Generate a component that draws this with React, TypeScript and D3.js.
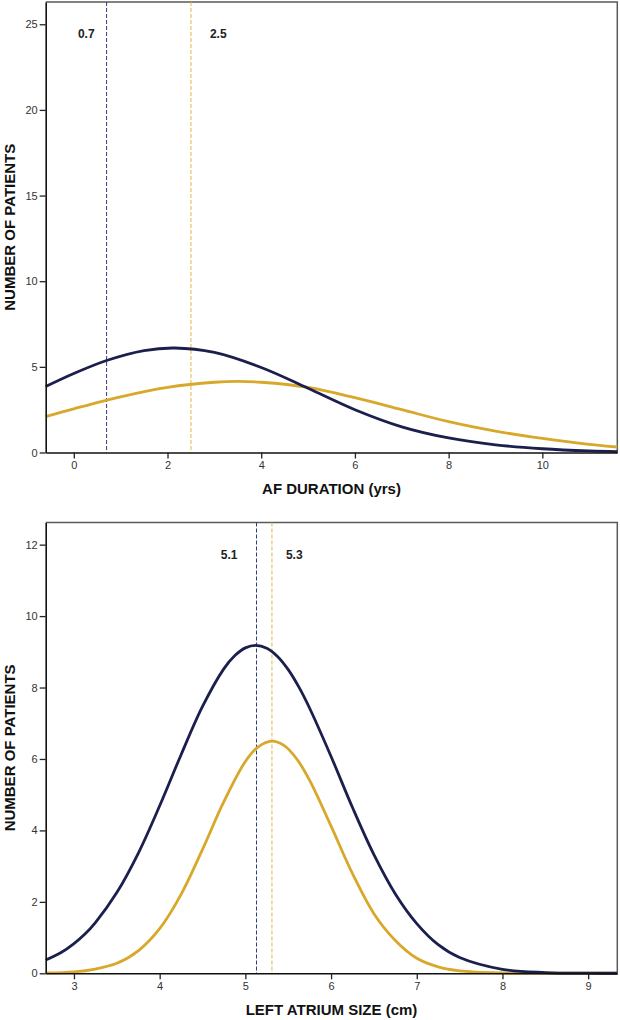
import { useEffect, useRef } from 'react';
import * as d3 from 'd3';

// AF duration panel
const afNavyX = [-0.6, 0, 0.7, 1.5, 2.15, 3, 4, 5, 6, 7, 8, 9, 10, 11, 11.6];
const afNavyY = [3.85, 4.61, 5.37, 5.95, 6.1, 5.84, 4.96, 3.75, 2.5, 1.5, 0.85, 0.45, 0.22, 0.09, 0.05];
const afGoldX = [-0.6, 0, 1, 2, 3, 3.5, 4, 5, 6, 7, 8, 9, 10, 11, 11.6];
const afGoldY = [2.1, 2.55, 3.25, 3.8, 4.1, 4.15, 4.1, 3.8, 3.2, 2.5, 1.8, 1.25, 0.82, 0.47, 0.32];
const afXTicks = [0, 2, 4, 6, 8, 10];
const afYTicks = [0, 5, 10, 15, 20, 25];
const afMarkers = [0.7, 2.5];

// Left atrium panel
const laNavyX = [2.67, 2.85, 3, 3.125, 3.25, 3.5, 3.75, 4, 4.25, 4.5, 4.75, 4.875, 5, 5.12, 5.25, 5.375, 5.5, 5.625, 5.75, 6, 6.25, 6.5, 6.75, 7, 7.25, 7.5, 8, 8.5, 9, 9.34];
const laNavyY = [0.37, 0.58, 0.83, 1.09, 1.42, 2.26, 3.36, 4.69, 6.12, 7.47, 8.53, 8.89, 9.11, 9.18, 9.1, 8.87, 8.5, 8.01, 7.42, 6.07, 4.64, 3.32, 2.22, 1.39, 0.8, 0.44, 0.11, 0.02, 0.003, 0.001];
const laGoldX = [2.67, 3, 3.25, 3.5, 3.75, 4, 4.25, 4.5, 4.75, 5, 5.15, 5.31, 5.45, 5.6, 5.75, 6, 6.25, 6.5, 6.75, 7, 7.25, 7.5, 8, 8.5, 9.34];
const laGoldY = [0.01, 0.04, 0.12, 0.28, 0.63, 1.25, 2.21, 3.47, 4.81, 5.93, 6.34, 6.5, 6.38, 6.0, 5.4, 4.12, 2.79, 1.67, 0.92, 0.42, 0.18, 0.07, 0.01, 0.002, 0.001];
const laXTicks = [3, 4, 5, 6, 7, 8, 9];
const laYTicks = [0, 2, 4, 6, 8, 10, 12];
const laMarkers = [5.13, 5.31];
const laMarkerLabels = ['5.1', '5.3'];

const NAVY = '#1b1f4d';
const GOLD = '#d8a82a';
const NAVY_DASH = '#343a7c';
const GOLD_DASH = '#e2b640';
const FONT = 'Arial, "Liberation Sans", Helvetica, sans-serif';

interface Panel {
  top: number;
  bottom: number;
  xDomain: [number, number];
  yDomain: [number, number];
  xTicks: number[];
  yTicks: number[];
  navy: [number, number][];
  gold: [number, number][];
  markers: number[];
  markerLabels: string[];
  labelDx: [number, number];
  xTitle: string;
}

const zip = (xs: number[], ys: number[]) => xs.map((x, i) => [x, ys[i]] as [number, number]);

const panels: Panel[] = [
  {
    top: 2,
    bottom: 452.5,
    xDomain: [-0.6, 11.6],
    yDomain: [0, 26.3],
    xTicks: afXTicks,
    yTicks: afYTicks,
    navy: zip(afNavyX, afNavyY),
    gold: zip(afGoldX, afGoldY),
    markers: afMarkers,
    markerLabels: afMarkers.map((m) => m.toFixed(1)),
    labelDx: [-12, 19],
    xTitle: 'AF DURATION (yrs)',
  },
  {
    top: 522.5,
    bottom: 973.3,
    xDomain: [2.67, 9.34],
    yDomain: [0, 12.62],
    xTicks: laXTicks,
    yTicks: laYTicks,
    navy: zip(laNavyX, laNavyY),
    gold: zip(laGoldX, laGoldY),
    markers: laMarkers,
    markerLabels: laMarkerLabels,
    labelDx: [-19, 14],
    xTitle: 'LEFT ATRIUM SIZE (cm)',
  },
];

export default function App() {
  const svgRef = useRef<SVGSVGElement>(null);

  useEffect(() => {
    if (!svgRef.current) return;
    document.body.style.margin = '0';

    const width = 620;
    const height = 1020;
    const left = 45.7;
    const right = 617.3;

    const svg = d3.select(svgRef.current).attr('width', width).attr('height', height);
    svg.selectAll('*').remove();

    panels.forEach((p) => {
      const x = d3.scaleLinear().domain(p.xDomain).range([left, right]);
      const y = d3.scaleLinear().domain(p.yDomain).range([p.bottom, p.top]);
      const g = svg.append('g');

      // frame (top + right in grey)
      g.append('path')
        .attr('d', `M${left},${p.top}H${right}V${p.bottom}`)
        .attr('fill', 'none')
        .attr('stroke', '#5a5a5a')
        .attr('stroke-width', 1.5);

      // dashed marker lines
      p.markers.forEach((m, i) => {
        g.append('line')
          .attr('x1', x(m))
          .attr('x2', x(m))
          .attr('y1', p.top)
          .attr('y2', p.bottom)
          .attr('stroke', i === 0 ? NAVY_DASH : GOLD_DASH)
          .attr('stroke-width', 1)
          .attr('stroke-dasharray', '4,2');

        g.append('text')
          .attr('x', x(m) + p.labelDx[i])
          .attr('y', p.top + 36.3)
          .attr('text-anchor', i === 0 ? 'end' : 'start')
          .attr('font-family', FONT)
          .attr('font-size', '12px')
          .attr('font-weight', 'bold')
          .attr('fill', '#222')
          .text(p.markerLabels[i]);
      });

      const line = d3
        .line<[number, number]>()
        .x((d) => x(d[0]))
        .y((d) => y(Math.max(0, d[1])))
        .curve(d3.curveCatmullRom.alpha(0.5));

      g.append('path')
        .datum(p.gold)
        .attr('fill', 'none')
        .attr('stroke', GOLD)
        .attr('stroke-width', 2.8)
        .attr('d', line);

      g.append('path')
        .datum(p.navy)
        .attr('fill', 'none')
        .attr('stroke', NAVY)
        .attr('stroke-width', 2.8)
        .attr('d', line);

      // X axis
      const xAxis = d3
        .axisBottom(x)
        .tickValues(p.xTicks)
        .tickFormat(d3.format('d'))
        .tickSize(6)
        .tickPadding(3)
        .tickSizeOuter(0);
      const xg = g.append('g').attr('transform', `translate(0,${p.bottom})`).call(xAxis);
      xg.select('.domain').attr('stroke', '#111').attr('stroke-width', 1.6);
      xg.selectAll('.tick line').attr('stroke', '#222').attr('stroke-width', 1.3);
      xg.selectAll('.tick text')
        .attr('font-family', FONT)
        .attr('font-size', '11px')
        .attr('fill', '#333');

      // Y axis
      const yAxis = d3
        .axisLeft(y)
        .tickValues(p.yTicks)
        .tickFormat(d3.format('d'))
        .tickSize(6)
        .tickPadding(2)
        .tickSizeOuter(0);
      const yg = g.append('g').attr('transform', `translate(${left},0)`).call(yAxis);
      yg.select('.domain').attr('stroke', '#111').attr('stroke-width', 1.6);
      yg.selectAll('.tick line').attr('stroke', '#222').attr('stroke-width', 1.3);
      yg.selectAll('.tick text')
        .attr('font-family', FONT)
        .attr('font-size', '11px')
        .attr('fill', '#333');

      // titles
      g.append('text')
        .attr('x', (left + right) / 2)
        .attr('y', p.bottom + 41.5)
        .attr('text-anchor', 'middle')
        .attr('font-family', FONT)
        .attr('font-size', '15px')
        .attr('font-weight', 'bold')
        .attr('fill', '#111')
        .text(p.xTitle);

      g.append('text')
        .attr('transform', `translate(15,${(p.top + p.bottom) / 2}) rotate(-90)`)
        .attr('text-anchor', 'middle')
        .attr('font-family', FONT)
        .attr('font-size', '15px')
        .attr('font-weight', 'bold')
        .attr('fill', '#111')
        .text('NUMBER OF PATIENTS');
    });
  }, []);

  return <svg ref={svgRef} style={{ display: 'block' }} />;
}
